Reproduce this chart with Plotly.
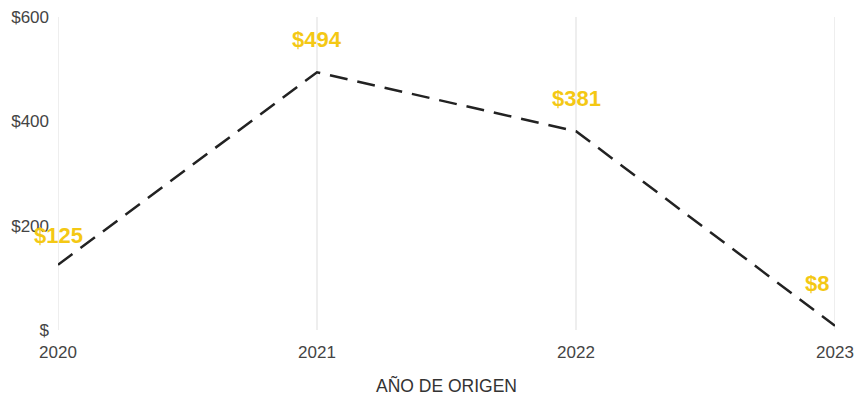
import plotly.graph_objects as go

years = [2020, 2021, 2022, 2023]
values = [125, 494, 381, 8]
labels = ["$125", "$494", "$381", "$8"]
label_xshift = [0, 0, 0, -18]
label_yshift = [29, 33, 33, 42]
y_tickvals = [0, 200, 400, 600]
y_ticktext = ["$", "$200", "$400", "$600"]

fig = go.Figure()
for yr in years:
    fig.add_vline(x=yr, line=dict(color="#dddddd", width=1), layer="below")
fig.add_trace(go.Scatter(
    x=years, y=values, mode="lines",
    line=dict(color="#222222", width=2.5, dash="18px,10px"),
    hoverinfo="skip", showlegend=False,
))
for x, y, t, xs, ys in zip(years, values, labels, label_xshift, label_yshift):
    fig.add_annotation(x=x, y=y, text=t, showarrow=False, xshift=xs, yshift=ys,
                       font=dict(family="Liberation Sans, Arial", size=22, color="#F4C814", weight="bold"))

fig.update_layout(
    width=856, height=401,
    margin=dict(l=58, r=21, t=17, b=71, autoexpand=False),
    paper_bgcolor="white", plot_bgcolor="white",
    font=dict(family="Liberation Sans, Arial", size=17, color="#444444"),
    xaxis=dict(range=[2020, 2023], tickvals=years, ticktext=[str(y) for y in years],
               showgrid=False, zeroline=False, automargin=False, ticklabeloverflow="allow",
               showline=False, ticks="", ticklabelstandoff=10,
               title=dict(text="AÑO DE ORIGEN", standoff=18, font=dict(size=17.5, color="#333333"))),
    yaxis=dict(range=[0, 600], tickvals=y_tickvals, ticktext=y_ticktext,
               showgrid=False, zeroline=False, showline=False, ticks="", automargin=False,
               ticklabeloverflow="allow", ticklabelstandoff=8),
)
fig.write_html("out.html", config={"displayModeBar": False},
               post_script="document.body.style.margin='0';document.body.style.overflow='hidden';")
